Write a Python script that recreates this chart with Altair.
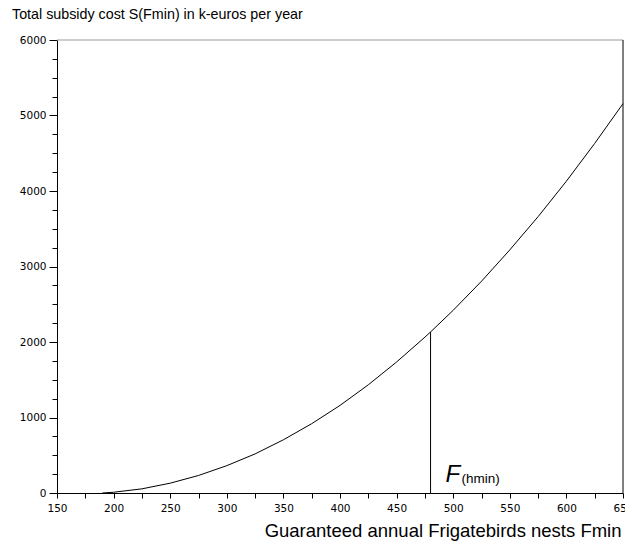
import altair as alt
import pandas as pd

# Curve
F_values = [190, 200, 225, 250, 275, 300, 325, 350, 375, 400, 425, 450, 475, 480,
            500, 525, 550, 575, 600, 625, 650]
S_values = [0, 10, 55, 130, 232, 362, 518, 705, 918, 1160, 1433, 1735, 2064, 2133,
            2420, 2805, 3220, 3660, 4130, 4630, 5157]

x_ticks = list(range(150, 651, 25))
y_ticks = list(range(0, 6001, 250))

fh_min = 480
s_at_fh_min = 2133
x_min, x_max = 150, 650
y_min, y_max = 0, 6000

curve_df = pd.DataFrame({"F": F_values, "S": S_values})
vline_df = pd.DataFrame({"F": [fh_min], "S": [y_min], "S2": [s_at_fh_min]})
top_df = pd.DataFrame({"F": [x_min], "F2": [x_max], "S": [y_max]})
right_df = pd.DataFrame({"F": [x_max], "S": [y_min], "S2": [y_max]})
label_df = pd.DataFrame({"F": [fh_min], "S": [y_min]})

xenc = alt.X(
    "F:Q",
    scale=alt.Scale(domain=[x_min, x_max], nice=False, zero=False),
    axis=alt.Axis(
        values=x_ticks,
        format="d",
        labelExpr="datum.value % 50 === 0 ? datum.label : ''",
        tickSize=5,
        labelPadding=5,
        labelFlush=False,
        labelOverlap=False,
        grid=False,
        domainColor="black",
        tickColor="black",
        labelColor="black",
        labelFont="DejaVu Sans",
        labelFontSize=10.5,
        title="Guaranteed annual Frigatebirds nests Fmin",
        titleFont="Liberation Sans",
        titleFontSize=18.5,
        titleFontWeight="normal",
        titleColor="black",
        titleAnchor="end",
        titleAlign="right",
        titleBaseline="alphabetic",
        titleX=564,
        titleY=43,
    ),
)
yenc = alt.Y(
    "S:Q",
    scale=alt.Scale(domain=[y_min, y_max], nice=False, zero=False),
    axis=alt.Axis(
        values=y_ticks,
        format="d",
        labelExpr="datum.value % 1000 === 0 ? datum.label : ''",
        tickSize={"condition": {"test": "datum.value % 1000 === 0", "value": 8}, "value": 5},
        labelPadding=3,
        labelOverlap=False,
        grid=False,
        domainColor="black",
        tickColor="black",
        labelColor="black",
        labelFont="DejaVu Sans",
        labelFontSize=10.5,
        title=None,
    ),
)

curve = alt.Chart(curve_df).mark_line(color="black", strokeWidth=1).encode(x=xenc, y=yenc)
vline = alt.Chart(vline_df).mark_rule(color="black", strokeWidth=1).encode(x=xenc, y=yenc, y2="S2:Q")
top = alt.Chart(top_df).mark_rule(color="#9a9a9a", strokeWidth=1).encode(x=xenc, x2="F2:Q", y=yenc)
right = alt.Chart(right_df).mark_rule(color="black", strokeWidth=1).encode(x=xenc, y=yenc, y2="S2:Q")
labF = alt.Chart(label_df).mark_text(
    text="F", font="Liberation Sans", fontSize=24, fontStyle="italic",
    align="left", baseline="alphabetic", dx=15, dy=-11, color="black"
).encode(x=xenc, y=yenc)
labH = alt.Chart(label_df).mark_text(
    text="(hmin)", font="Liberation Sans", fontSize=13.5,
    align="left", baseline="alphabetic", dx=31, dy=-10, color="black"
).encode(x=xenc, y=yenc)

chart = alt.layer(top, right, curve, vline, labF, labH).properties(
    width=566,
    height=453,
    autosize="none",
    padding={"left": 49, "top": 32, "right": 2, "bottom": 48},
    title=alt.TitleParams(
        "Total subsidy cost S(Fmin) in k-euros per year",
        anchor="start", frame="group", dx=-45, offset=13,
        font="Liberation Sans", fontSize=14.3, fontWeight="normal", color="black",
    ),
).configure_view(stroke=None)

chart.save("out.html", embed_options={"renderer": "svg", "actions": False})
